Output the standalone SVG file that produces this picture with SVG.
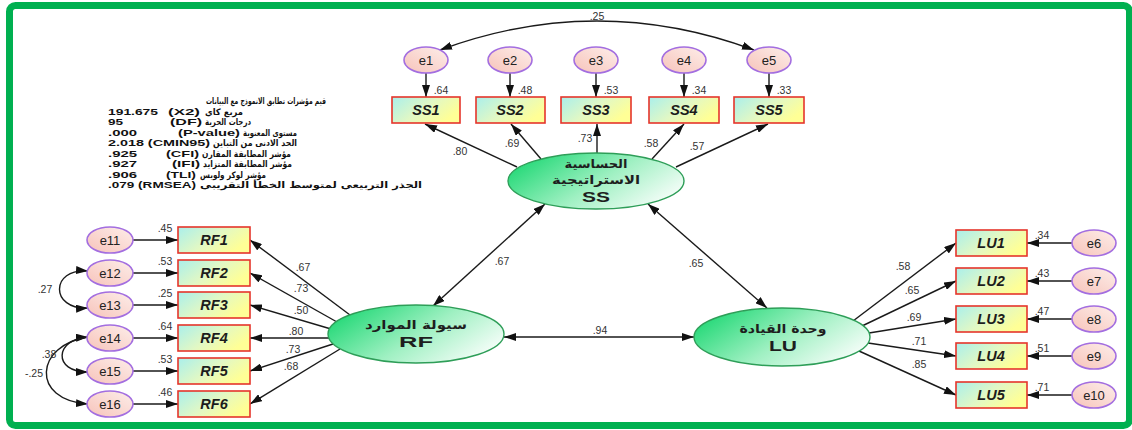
<svg xmlns="http://www.w3.org/2000/svg" width="1132" height="430" viewBox="0 0 1132 430">
  <defs>
    <linearGradient id="boxFill" x1="0" y1="0" x2="1" y2="0.5">
      <stop offset="0" stop-color="#a9efec"/>
      <stop offset="0.55" stop-color="#e2f8c4"/>
      <stop offset="1" stop-color="#ffff96"/>
    </linearGradient>
    <linearGradient id="errFill" x1="0" y1="1" x2="1" y2="0">
      <stop offset="0" stop-color="#f7c3ba"/>
      <stop offset="1" stop-color="#fdeeea"/>
    </linearGradient>
    <linearGradient id="latFill" x1="0" y1="0.3" x2="1" y2="0.8">
      <stop offset="0" stop-color="#25d978"/>
      <stop offset="0.5" stop-color="#9ff0c2"/>
      <stop offset="1" stop-color="#ffffff"/>
    </linearGradient>
    <marker id="ah" viewBox="0 0 12 8" refX="12" refY="4" markerWidth="12" markerHeight="8" markerUnits="userSpaceOnUse" orient="auto-start-reverse">
      <path d="M0,0 L12,4 L0,8 z" fill="#111"/>
    </marker>
    <style>
      .box { fill: url(#boxFill); stroke: #e5352b; stroke-width: 1.6; }
      .err { fill: url(#errFill); stroke: #a36ee0; stroke-width: 1.6; }
      .lat { fill: url(#latFill); stroke: #2e9e58; stroke-width: 1.4; }
      .btxt { font-family: "Liberation Sans", Arial, sans-serif; font-weight: bold; font-style: italic; font-size: 14.5px; fill: #1c1c1c; text-anchor: middle; }
      .etxt { font-family: "Liberation Sans", Arial, sans-serif; font-size: 13px; fill: #222; text-anchor: middle; }
      .lbl { font-family: "Liberation Sans", Arial, sans-serif; font-size: 10.5px; fill: #333; text-anchor: middle; }
      .ar { font-family: "DejaVu Sans", "Noto Sans", sans-serif; font-weight: bold; font-size: 12px; fill: #1e1e1e; text-anchor: middle; }
      .code { font-family: "Liberation Sans", Arial, sans-serif; font-weight: bold; font-size: 15px; fill: #1e1e1e; text-anchor: middle; }
      .fit { font-family: "Liberation Sans", Arial, sans-serif; font-weight: bold; font-size: 9.4px; fill: #111; }
      .fitar { font-family: "DejaVu Sans", "Noto Sans", sans-serif; font-weight: bold; font-size: 8.8px; fill: #111; }
      .arrow line, .arrow path { stroke: #1a1a1a; stroke-width: 1.4; fill: none; }
    </style>
  </defs>

  <rect x="0" y="0" width="1132" height="430" fill="#ffffff"/>
  <!-- outer frame -->
  <rect x="9.5" y="5.5" width="1120" height="420" rx="6" fill="none" stroke="#00b050" stroke-width="7"/>

  <!-- model fit summary -->
  <g id="fit-indices">
    <text class="fitar" x="326" y="104" text-anchor="end" textLength="120" lengthAdjust="spacingAndGlyphs">قيم مؤشرات تطابق الانموذج مع البيانات</text>
    <text class="fit" x="108" y="114.5" textLength="50" lengthAdjust="spacingAndGlyphs">191.675</text>
    <text class="fit" x="168" y="114.5" textLength="32" lengthAdjust="spacingAndGlyphs">(X2)</text>
    <text class="fitar" x="205" y="114.5" textLength="38" lengthAdjust="spacingAndGlyphs">مربع كاي</text>
    <text class="fit" x="108" y="125" textLength="15" lengthAdjust="spacingAndGlyphs">95</text>
    <text class="fit" x="170" y="125" textLength="32" lengthAdjust="spacingAndGlyphs">(DF)</text>
    <text class="fitar" x="205" y="125" textLength="46" lengthAdjust="spacingAndGlyphs">درجات الحرية</text>
    <text class="fit" x="108" y="135.5" textLength="29" lengthAdjust="spacingAndGlyphs">.000</text>
    <text class="fit" x="178" y="135.5" textLength="62" lengthAdjust="spacingAndGlyphs">(P-value)</text>
    <text class="fitar" x="243" y="135.5" textLength="54" lengthAdjust="spacingAndGlyphs">مستوى المعنوية</text>
    <text class="fit" x="108" y="146" textLength="102" lengthAdjust="spacingAndGlyphs">2.018 (CMIN95)</text>
    <text class="fitar" x="213" y="146" textLength="84" lengthAdjust="spacingAndGlyphs">الحد الادنى من التباين</text>
    <text class="fit" x="108" y="156.5" textLength="29" lengthAdjust="spacingAndGlyphs">.925</text>
    <text class="fit" x="166" y="156.5" textLength="33" lengthAdjust="spacingAndGlyphs">(CFI)</text>
    <text class="fitar" x="202" y="156.5" textLength="89" lengthAdjust="spacingAndGlyphs">مؤشر المطابقة المقارن</text>
    <text class="fit" x="108" y="167" textLength="29" lengthAdjust="spacingAndGlyphs">.927</text>
    <text class="fit" x="172" y="167" textLength="28" lengthAdjust="spacingAndGlyphs">(IFI)</text>
    <text class="fitar" x="203" y="167" textLength="89" lengthAdjust="spacingAndGlyphs">مؤشر المطابقة المتزايد</text>
    <text class="fit" x="108" y="177.5" textLength="29" lengthAdjust="spacingAndGlyphs">.906</text>
    <text class="fit" x="166" y="177.5" textLength="30" lengthAdjust="spacingAndGlyphs">(TLI)</text>
    <text class="fitar" x="200" y="177.5" textLength="66" lengthAdjust="spacingAndGlyphs">مؤشر لوكر ولويس</text>
    <text class="fit" x="108" y="188" textLength="88" lengthAdjust="spacingAndGlyphs">.079 (RMSEA)</text>
    <text class="fitar" x="200" y="188" textLength="222" lengthAdjust="spacingAndGlyphs">الجذر التربيعي لمتوسط الخطأ التقريبي</text>
  </g>

  <!-- connectors -->
  <g id="connectors" class="arrow">
    <!-- error covariances -->
    <path d="M440,50 Q597,-8 754,50" marker-start="url(#ah)" marker-end="url(#ah)"/>
    <path d="M88,271 C50,268 50,310 88,308" marker-start="url(#ah)" marker-end="url(#ah)"/>
    <path d="M88,337 C55,339 52,372 88,372" marker-start="url(#ah)" marker-end="url(#ah)"/>
    <path d="M88,337 C35,345 30,400 88,404" marker-end="url(#ah)"/>
    <!-- errors to SS indicators -->
    <line x1="426" y1="73" x2="426" y2="97" marker-end="url(#ah)"/>
    <line x1="510" y1="73" x2="510" y2="97" marker-end="url(#ah)"/>
    <line x1="596" y1="73" x2="596" y2="97" marker-end="url(#ah)"/>
    <line x1="684" y1="73" x2="684" y2="97" marker-end="url(#ah)"/>
    <line x1="769" y1="73" x2="769" y2="97" marker-end="url(#ah)"/>
    <!-- SS loadings -->
    <line x1="517" y1="167" x2="425" y2="124" marker-end="url(#ah)"/>
    <line x1="541" y1="159" x2="511" y2="124" marker-end="url(#ah)"/>
    <line x1="597" y1="153" x2="597" y2="124" marker-end="url(#ah)"/>
    <line x1="652" y1="159" x2="684" y2="124" marker-end="url(#ah)"/>
    <line x1="676" y1="167" x2="768" y2="124" marker-end="url(#ah)"/>
    <!-- latent correlations -->
    <line x1="545" y1="204" x2="433" y2="306" marker-start="url(#ah)" marker-end="url(#ah)"/>
    <line x1="648" y1="204" x2="767" y2="308" marker-start="url(#ah)" marker-end="url(#ah)"/>
    <line x1="504" y1="337" x2="694" y2="337" marker-start="url(#ah)" marker-end="url(#ah)"/>
    <!-- RF loadings -->
    <line x1="350" y1="315" x2="250" y2="240" marker-end="url(#ah)"/>
    <line x1="337" y1="322" x2="250" y2="273" marker-end="url(#ah)"/>
    <line x1="331" y1="329" x2="250" y2="305" marker-end="url(#ah)"/>
    <line x1="329" y1="338" x2="250" y2="338" marker-end="url(#ah)"/>
    <line x1="333" y1="344" x2="250" y2="371" marker-end="url(#ah)"/>
    <line x1="340" y1="349" x2="250" y2="404" marker-end="url(#ah)"/>
    <!-- errors to RF indicators -->
    <line x1="133" y1="240" x2="178" y2="240" marker-end="url(#ah)"/>
    <line x1="133" y1="273" x2="178" y2="273" marker-end="url(#ah)"/>
    <line x1="133" y1="305" x2="178" y2="305" marker-end="url(#ah)"/>
    <line x1="133" y1="338" x2="178" y2="338" marker-end="url(#ah)"/>
    <line x1="133" y1="371" x2="178" y2="371" marker-end="url(#ah)"/>
    <line x1="133" y1="404" x2="178" y2="404" marker-end="url(#ah)"/>
    <!-- LU loadings -->
    <line x1="853" y1="321" x2="956" y2="243" marker-end="url(#ah)"/>
    <line x1="862" y1="326" x2="956" y2="281" marker-end="url(#ah)"/>
    <line x1="869" y1="333" x2="956" y2="319" marker-end="url(#ah)"/>
    <line x1="868" y1="343" x2="956" y2="356" marker-end="url(#ah)"/>
    <line x1="859" y1="351" x2="956" y2="395" marker-end="url(#ah)"/>
    <!-- errors to LU indicators -->
    <line x1="1072" y1="243" x2="1027" y2="243" marker-end="url(#ah)"/>
    <line x1="1072" y1="281" x2="1027" y2="281" marker-end="url(#ah)"/>
    <line x1="1072" y1="319" x2="1027" y2="319" marker-end="url(#ah)"/>
    <line x1="1072" y1="356" x2="1027" y2="356" marker-end="url(#ah)"/>
    <line x1="1072" y1="395" x2="1027" y2="395" marker-end="url(#ah)"/>
  </g>

  <!-- path coefficients -->
  <g id="coefficients" class="lbl">
    <text x="597" y="20">.25</text>
    <text x="441" y="94">.64</text>
    <text x="525" y="94">.48</text>
    <text x="611" y="94">.53</text>
    <text x="699" y="94">.34</text>
    <text x="784" y="94">.33</text>
    <text x="460" y="155">.80</text>
    <text x="512" y="147">.69</text>
    <text x="585" y="142">.73</text>
    <text x="651" y="147">.58</text>
    <text x="697" y="150">.57</text>
    <text x="502" y="265">.67</text>
    <text x="696" y="267">.65</text>
    <text x="600" y="334">.94</text>
    <text x="303" y="271">.67</text>
    <text x="301" y="292">.73</text>
    <text x="301" y="314">.50</text>
    <text x="296" y="335">.80</text>
    <text x="293" y="353">.73</text>
    <text x="291" y="370">.68</text>
    <text x="165" y="232">.45</text>
    <text x="165" y="265">.53</text>
    <text x="165" y="297">.25</text>
    <text x="165" y="330">.64</text>
    <text x="165" y="363">.53</text>
    <text x="165" y="396">.46</text>
    <text x="45" y="293">.27</text>
    <text x="49" y="358">.38</text>
    <text x="34" y="377">-.25</text>
    <text x="903" y="270">.58</text>
    <text x="912" y="294">.65</text>
    <text x="914" y="321">.69</text>
    <text x="919" y="345">.71</text>
    <text x="919" y="368">.85</text>
    <text x="1042" y="239">.34</text>
    <text x="1042" y="277">.43</text>
    <text x="1042" y="315">.47</text>
    <text x="1042" y="352">.51</text>
    <text x="1042" y="391">.71</text>
  </g>

  <!-- latent variables -->
  <g id="SS">
    <ellipse class="lat" cx="596" cy="181" rx="88" ry="28"/>
    <text class="ar" x="596" y="168" textLength="63" lengthAdjust="spacingAndGlyphs">الحساسية</text>
    <text class="ar" x="596" y="184" textLength="88" lengthAdjust="spacingAndGlyphs">الاستراتيجية</text>
    <text class="code" x="596" y="202" textLength="28" lengthAdjust="spacingAndGlyphs">SS</text>
  </g>
  <g id="RF">
    <ellipse class="lat" cx="416" cy="334" rx="88" ry="29"/>
    <text class="ar" x="416" y="329" textLength="102" lengthAdjust="spacingAndGlyphs">سيولة الموارد</text>
    <text class="code" x="416" y="347" textLength="34" lengthAdjust="spacingAndGlyphs">RF</text>
  </g>
  <g id="LU">
    <ellipse class="lat" cx="782" cy="337" rx="88" ry="29"/>
    <text class="ar" x="783" y="333" textLength="87" lengthAdjust="spacingAndGlyphs">وحدة القيادة</text>
    <text class="code" x="783" y="351" textLength="28" lengthAdjust="spacingAndGlyphs">LU</text>
  </g>

  <!-- SS indicators and errors -->
  <g id="SS1"><rect class="box" x="392" y="97" width="68" height="26"/><text class="btxt" x="426" y="115">SS1</text></g>
  <g id="SS2"><rect class="box" x="476" y="97" width="69" height="26"/><text class="btxt" x="510" y="115">SS2</text></g>
  <g id="SS3"><rect class="box" x="561" y="97" width="70" height="26"/><text class="btxt" x="596" y="115">SS3</text></g>
  <g id="SS4"><rect class="box" x="649" y="97" width="70" height="26"/><text class="btxt" x="684" y="115">SS4</text></g>
  <g id="SS5"><rect class="box" x="734" y="97" width="70" height="26"/><text class="btxt" x="769" y="115">SS5</text></g>
  <g id="e1"><ellipse class="err" cx="426" cy="60" rx="22" ry="13"/><text class="etxt" x="426" y="64.5">e1</text></g>
  <g id="e2"><ellipse class="err" cx="510" cy="60" rx="22" ry="13"/><text class="etxt" x="510" y="64.5">e2</text></g>
  <g id="e3"><ellipse class="err" cx="596" cy="60" rx="22" ry="13"/><text class="etxt" x="596" y="64.5">e3</text></g>
  <g id="e4"><ellipse class="err" cx="684" cy="60" rx="22" ry="13"/><text class="etxt" x="684" y="64.5">e4</text></g>
  <g id="e5"><ellipse class="err" cx="769" cy="60" rx="22" ry="13"/><text class="etxt" x="769" y="64.5">e5</text></g>

  <!-- RF indicators and errors -->
  <g id="RF1"><rect class="box" x="178" y="227" width="72" height="26"/><text class="btxt" x="214" y="245">RF1</text></g>
  <g id="RF2"><rect class="box" x="178" y="260" width="72" height="26"/><text class="btxt" x="214" y="278">RF2</text></g>
  <g id="RF3"><rect class="box" x="178" y="292" width="72" height="26"/><text class="btxt" x="214" y="310">RF3</text></g>
  <g id="RF4"><rect class="box" x="178" y="325" width="72" height="26"/><text class="btxt" x="214" y="343">RF4</text></g>
  <g id="RF5"><rect class="box" x="178" y="358" width="72" height="26"/><text class="btxt" x="214" y="376">RF5</text></g>
  <g id="RF6"><rect class="box" x="178" y="391" width="72" height="26"/><text class="btxt" x="214" y="409">RF6</text></g>
  <g id="e11"><ellipse class="err" cx="110" cy="240" rx="23" ry="13"/><text class="etxt" x="110" y="244.5">e11</text></g>
  <g id="e12"><ellipse class="err" cx="110" cy="273" rx="23" ry="13"/><text class="etxt" x="110" y="277.5">e12</text></g>
  <g id="e13"><ellipse class="err" cx="110" cy="305" rx="23" ry="13"/><text class="etxt" x="110" y="309.5">e13</text></g>
  <g id="e14"><ellipse class="err" cx="110" cy="338" rx="23" ry="13"/><text class="etxt" x="110" y="342.5">e14</text></g>
  <g id="e15"><ellipse class="err" cx="110" cy="371" rx="23" ry="13"/><text class="etxt" x="110" y="375.5">e15</text></g>
  <g id="e16"><ellipse class="err" cx="110" cy="404" rx="23" ry="13"/><text class="etxt" x="110" y="408.5">e16</text></g>

  <!-- LU indicators and errors -->
  <g id="LU1"><rect class="box" x="956" y="230" width="71" height="26"/><text class="btxt" x="991" y="248">LU1</text></g>
  <g id="LU2"><rect class="box" x="956" y="268" width="71" height="26"/><text class="btxt" x="991" y="286">LU2</text></g>
  <g id="LU3"><rect class="box" x="956" y="306" width="71" height="26"/><text class="btxt" x="991" y="324">LU3</text></g>
  <g id="LU4"><rect class="box" x="956" y="343" width="71" height="26"/><text class="btxt" x="991" y="361">LU4</text></g>
  <g id="LU5"><rect class="box" x="956" y="382" width="71" height="26"/><text class="btxt" x="991" y="400">LU5</text></g>
  <g id="e6"><ellipse class="err" cx="1094" cy="243" rx="22" ry="13"/><text class="etxt" x="1094" y="247.5">e6</text></g>
  <g id="e7"><ellipse class="err" cx="1094" cy="281" rx="22" ry="13"/><text class="etxt" x="1094" y="285.5">e7</text></g>
  <g id="e8"><ellipse class="err" cx="1094" cy="319" rx="22" ry="13"/><text class="etxt" x="1094" y="323.5">e8</text></g>
  <g id="e9"><ellipse class="err" cx="1094" cy="356" rx="22" ry="13"/><text class="etxt" x="1094" y="360.5">e9</text></g>
  <g id="e10"><ellipse class="err" cx="1094" cy="395" rx="22" ry="13"/><text class="etxt" x="1094" y="399.5">e10</text></g>
</svg>
